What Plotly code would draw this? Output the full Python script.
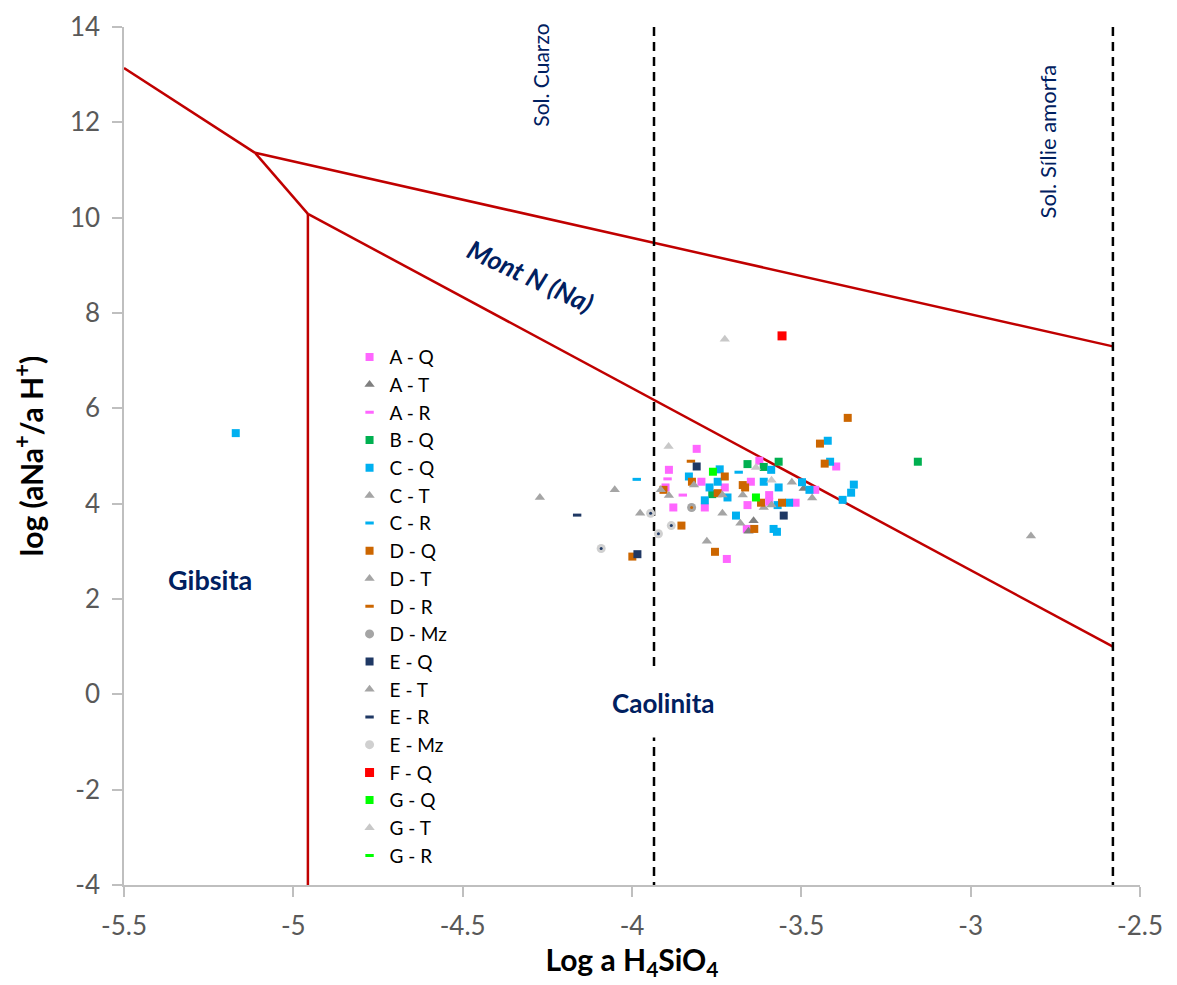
import plotly.graph_objects as go

# ---------------- data ----------------
# stability field boundaries
bnd_a_x = [-5.5, -5.113]
bnd_a_y = [13.14, 11.36]
bnd_up_x = [-5.113, -2.58]
bnd_up_y = [11.36, 7.30]
bnd_mid_x = [-5.113, -4.957]
bnd_mid_y = [11.36, 10.08]
bnd_low_x = [-4.957, -2.58]
bnd_low_y = [10.08, 1.0]
bnd_gib_x = [-4.957, -4.957]
bnd_gib_y = [10.08, -4.0]

quartz_x = -3.935
amorph_x = -2.58

aq_x = [-3.809, -3.891, -3.795, -3.901, -3.726, -3.878, -3.785, -3.720, -3.624, -3.649,
        -3.595, -3.595, -3.659, -3.517, -3.661, -3.397, -3.459]
aq_y = [5.15, 4.71, 4.46, 4.34, 4.34, 3.92, 3.92, 2.84, 4.90, 4.46,
        4.18, 4.04, 3.97, 4.02, 3.47, 4.78, 4.29]
at_x = [-3.641, -3.656, -3.493]
at_y = [3.64, 3.42, 4.32]
ar_x = [-3.895, -3.850]
ar_y = [4.52, 4.18]
bq_x = [-3.659, -3.611, -3.567, -3.763, -3.156]
bq_y = [4.83, 4.77, 4.88, 4.20, 4.88]
cq_x = [-5.170, -3.741, -3.832, -3.747, -3.771, -3.718, -3.785, -3.589, -3.611, -3.567,
        -3.570, -3.536, -3.498, -3.476, -3.693, -3.582, -3.572, -3.422, -3.415, -3.345,
        -3.353, -3.378]
cq_y = [5.48, 4.72, 4.57, 4.46, 4.34, 4.13, 4.07, 4.71, 4.46, 4.34,
        3.97, 4.02, 4.45, 4.29, 3.75, 3.47, 3.41, 5.32, 4.88, 4.40,
        4.23, 4.08]
ct_x = [-3.680, -3.611, -3.673, -3.468]
ct_y = [3.59, 3.92, 4.18, 4.12]
cr_x = [-3.986, -3.685]
cr_y = [4.51, 4.66]
dq_x = [-3.726, -3.823, -3.907, -3.747, -3.854, -3.755, -3.999, -3.673, -3.666, -3.619,
        -3.557, -3.639, -3.363, -3.445, -3.431]
dq_y = [4.57, 4.46, 4.29, 4.22, 3.54, 2.99, 2.89, 4.39, 4.34, 4.02,
        4.02, 3.47, 5.80, 5.26, 4.84]
dt_x = [-4.272, -4.051, -3.915, -3.891, -3.779]
dt_y = [4.13, 4.29, 4.29, 4.17, 3.21]
dr_x = [-3.826]
dr_y = [4.89]
dmz_x = [-3.824]
dmz_y = [3.92]
eq_x = [-3.809, -3.984, -3.552]
eq_y = [4.78, 2.94, 3.75]
et_x = [-3.976, -3.817, -3.733, -3.733, -2.822, -3.528, -3.588]
et_y = [3.80, 4.39, 4.18, 3.80, 3.32, 4.45, 3.97]
er_x = [-4.162]
er_y = [3.76]
emz_x = [-3.945, -4.091, -3.922, -3.884]
emz_y = [3.80, 3.06, 3.37, 3.54]
fq_x = [-3.557]
fq_y = [7.52]
gq_x = [-3.761, -3.634]
gq_y = [4.67, 4.13]
gt_x = [-3.726, -3.892, -3.588, -3.634]
gt_y = [7.45, 5.20, 4.49, 4.76]
gr_x = [None]
gr_y = [None]

xticks = [-5.5, -5, -4.5, -4, -3.5, -3, -2.5]
yticks = [14, 12, 10, 8, 6, 4, 2, 0, -2, -4]

# ---------------- figure ----------------
RED = "#C00000"
NAVY = "#002060"
FONT = "Lato, Open Sans, sans-serif"
fig = go.Figure()

for bx, by in [(bnd_a_x, bnd_a_y), (bnd_up_x, bnd_up_y), (bnd_mid_x, bnd_mid_y),
               (bnd_low_x, bnd_low_y), (bnd_gib_x, bnd_gib_y)]:
    fig.add_trace(go.Scatter(x=bx, y=by, mode="lines", line=dict(color=RED, width=2.5),
                             showlegend=False, hoverinfo="skip"))

for vx in [quartz_x, amorph_x]:
    fig.add_trace(go.Scatter(x=[vx, vx], y=[14, -4], mode="lines",
                             line=dict(color="black", width=2.5, dash="9px,6px"),
                             showlegend=False, hoverinfo="skip"))


def sq(name, x, y, color, size=8):
    fig.add_trace(go.Scatter(x=x, y=y, mode="markers", name=name,
                             marker=dict(symbol="square", size=size, color=color,
                                         line=dict(width=0))))


def tri(name, x, y, color):
    fig.add_trace(go.Scatter(x=x, y=y, mode="markers", name=name,
                             marker=dict(symbol="triangle-up", size=9, color=color,
                                         line=dict(width=0))))


def dash(name, x, y, color):
    fig.add_trace(go.Scatter(x=x, y=y, mode="markers", name=name,
                             marker=dict(symbol="line-ew", size=6, color=color,
                                         line=dict(width=3, color=color))))


def mz(name, x, y, ring):
    fig.add_trace(go.Scatter(x=x, y=y, mode="markers", name=name, legendgroup=name,
                             marker=dict(symbol="circle", size=9, color=ring,
                                         line=dict(width=0))))


sq("A - Q", aq_x, aq_y, "#FF66FF")
tri("A - T", at_x, at_y, "#7F7F7F")
dash("A - R", ar_x, ar_y, "#FF66FF")
sq("B - Q", bq_x, bq_y, "#00B050")
sq("C - Q", cq_x, cq_y, "#00B0F0")
tri("C - T", ct_x, ct_y, "#A5A5A5")
dash("C - R", cr_x, cr_y, "#00B0F0")
sq("D - Q", dq_x, dq_y, "#CC6600")
tri("D - T", dt_x, dt_y, "#A5A5A5")
dash("D - R", dr_x, dr_y, "#CC6600")
mz("D - Mz", dmz_x, dmz_y, "#A5A5A5")
sq("E - Q", eq_x, eq_y, "#1F3864")
tri("E - T", et_x, et_y, "#A5A5A5")
dash("E - R", er_x, er_y, "#1F3864")
mz("E - Mz", emz_x, emz_y, "#D0D0D0")
sq("F - Q", fq_x, fq_y, "#FF0000", size=9)
sq("G - Q", gq_x, gq_y, "#00FF00")
tri("G - T", gt_x, gt_y, "#C8C8C8")
dash("G - R", gr_x, gr_y, "#00FF00")

# centre dots of Mz markers
for (x, y, c, g) in [(dmz_x, dmz_y, "#CC6600", "D - Mz"), (emz_x, emz_y, "#1F3864", "E - Mz")]:
    fig.add_trace(go.Scatter(x=x, y=y, mode="markers", legendgroup=g, showlegend=False,
                             marker=dict(symbol="circle", size=3, color=c)))

ann_font = dict(family=FONT, color=NAVY)
fig.add_annotation(x=-5.246, y=2.40, text="<b>Gibsita</b>", showarrow=False,
                   font=dict(size=27, **ann_font))
fig.add_annotation(x=-3.906, y=-0.18, text="<b>Caolinita</b>", showarrow=False,
                   font=dict(size=26, **ann_font), bgcolor="white", borderpad=18)
fig.add_annotation(x=-4.300, y=8.78, text="<b><i>Mont N (Na)</i></b>", showarrow=False,
                   textangle=25, font=dict(size=26, **ann_font))
fig.add_annotation(x=-4.270, y=12.99, text="Sol. Cuarzo", showarrow=False,
                   textangle=-90, font=dict(size=21, **ann_font))
fig.add_annotation(x=-2.773, y=11.59, text="Sol. Sílie amorfa", showarrow=False,
                   textangle=-90, font=dict(size=22, **ann_font))

axis_common = dict(showgrid=False, zeroline=False, showline=True, linecolor="#BFBFBF",
                   linewidth=1.5, ticks="outside", ticklen=10, tickcolor="#BFBFBF",
                   tickwidth=1.5, ticklabelstandoff=7, automargin=False,
                   tickfont=dict(family=FONT, size=26, color="#595959"))

SUB = "<sub><span style='font-size:21px'>4</span></sub>"
SUP = "<sup><span style='font-size:22px'>+</span></sup>"
fig.update_xaxes(range=[-5.5, -2.5], tickvals=xticks,
                 ticktext=[f"{v:g}" for v in xticks],
                 title=dict(text=f"<b>Log a H{SUB}SiO{SUB}</b>", standoff=10,
                            font=dict(family=FONT, size=30, color="black")),
                 **axis_common)
fig.update_yaxes(range=[-4, 14], tickvals=yticks,
                 ticktext=[f"{v:g}" for v in yticks],
                 title=dict(text=f"<b>log (aNa{SUP}/a H{SUP})</b>", standoff=18,
                            font=dict(family=FONT, size=30, color="black")),
                 **axis_common)

fig.update_layout(
    width=1177, height=985,
    margin=dict(l=116, r=45, t=19, b=108),
    plot_bgcolor="white", paper_bgcolor="white",
    legend=dict(x=0.222, y=0.6375, xanchor="left", yanchor="top",
                bgcolor="rgba(0,0,0,0)", tracegroupgap=0, itemwidth=30,
                font=dict(family=FONT, size=19, color="black")),
)

fig.write_html("out.html")
